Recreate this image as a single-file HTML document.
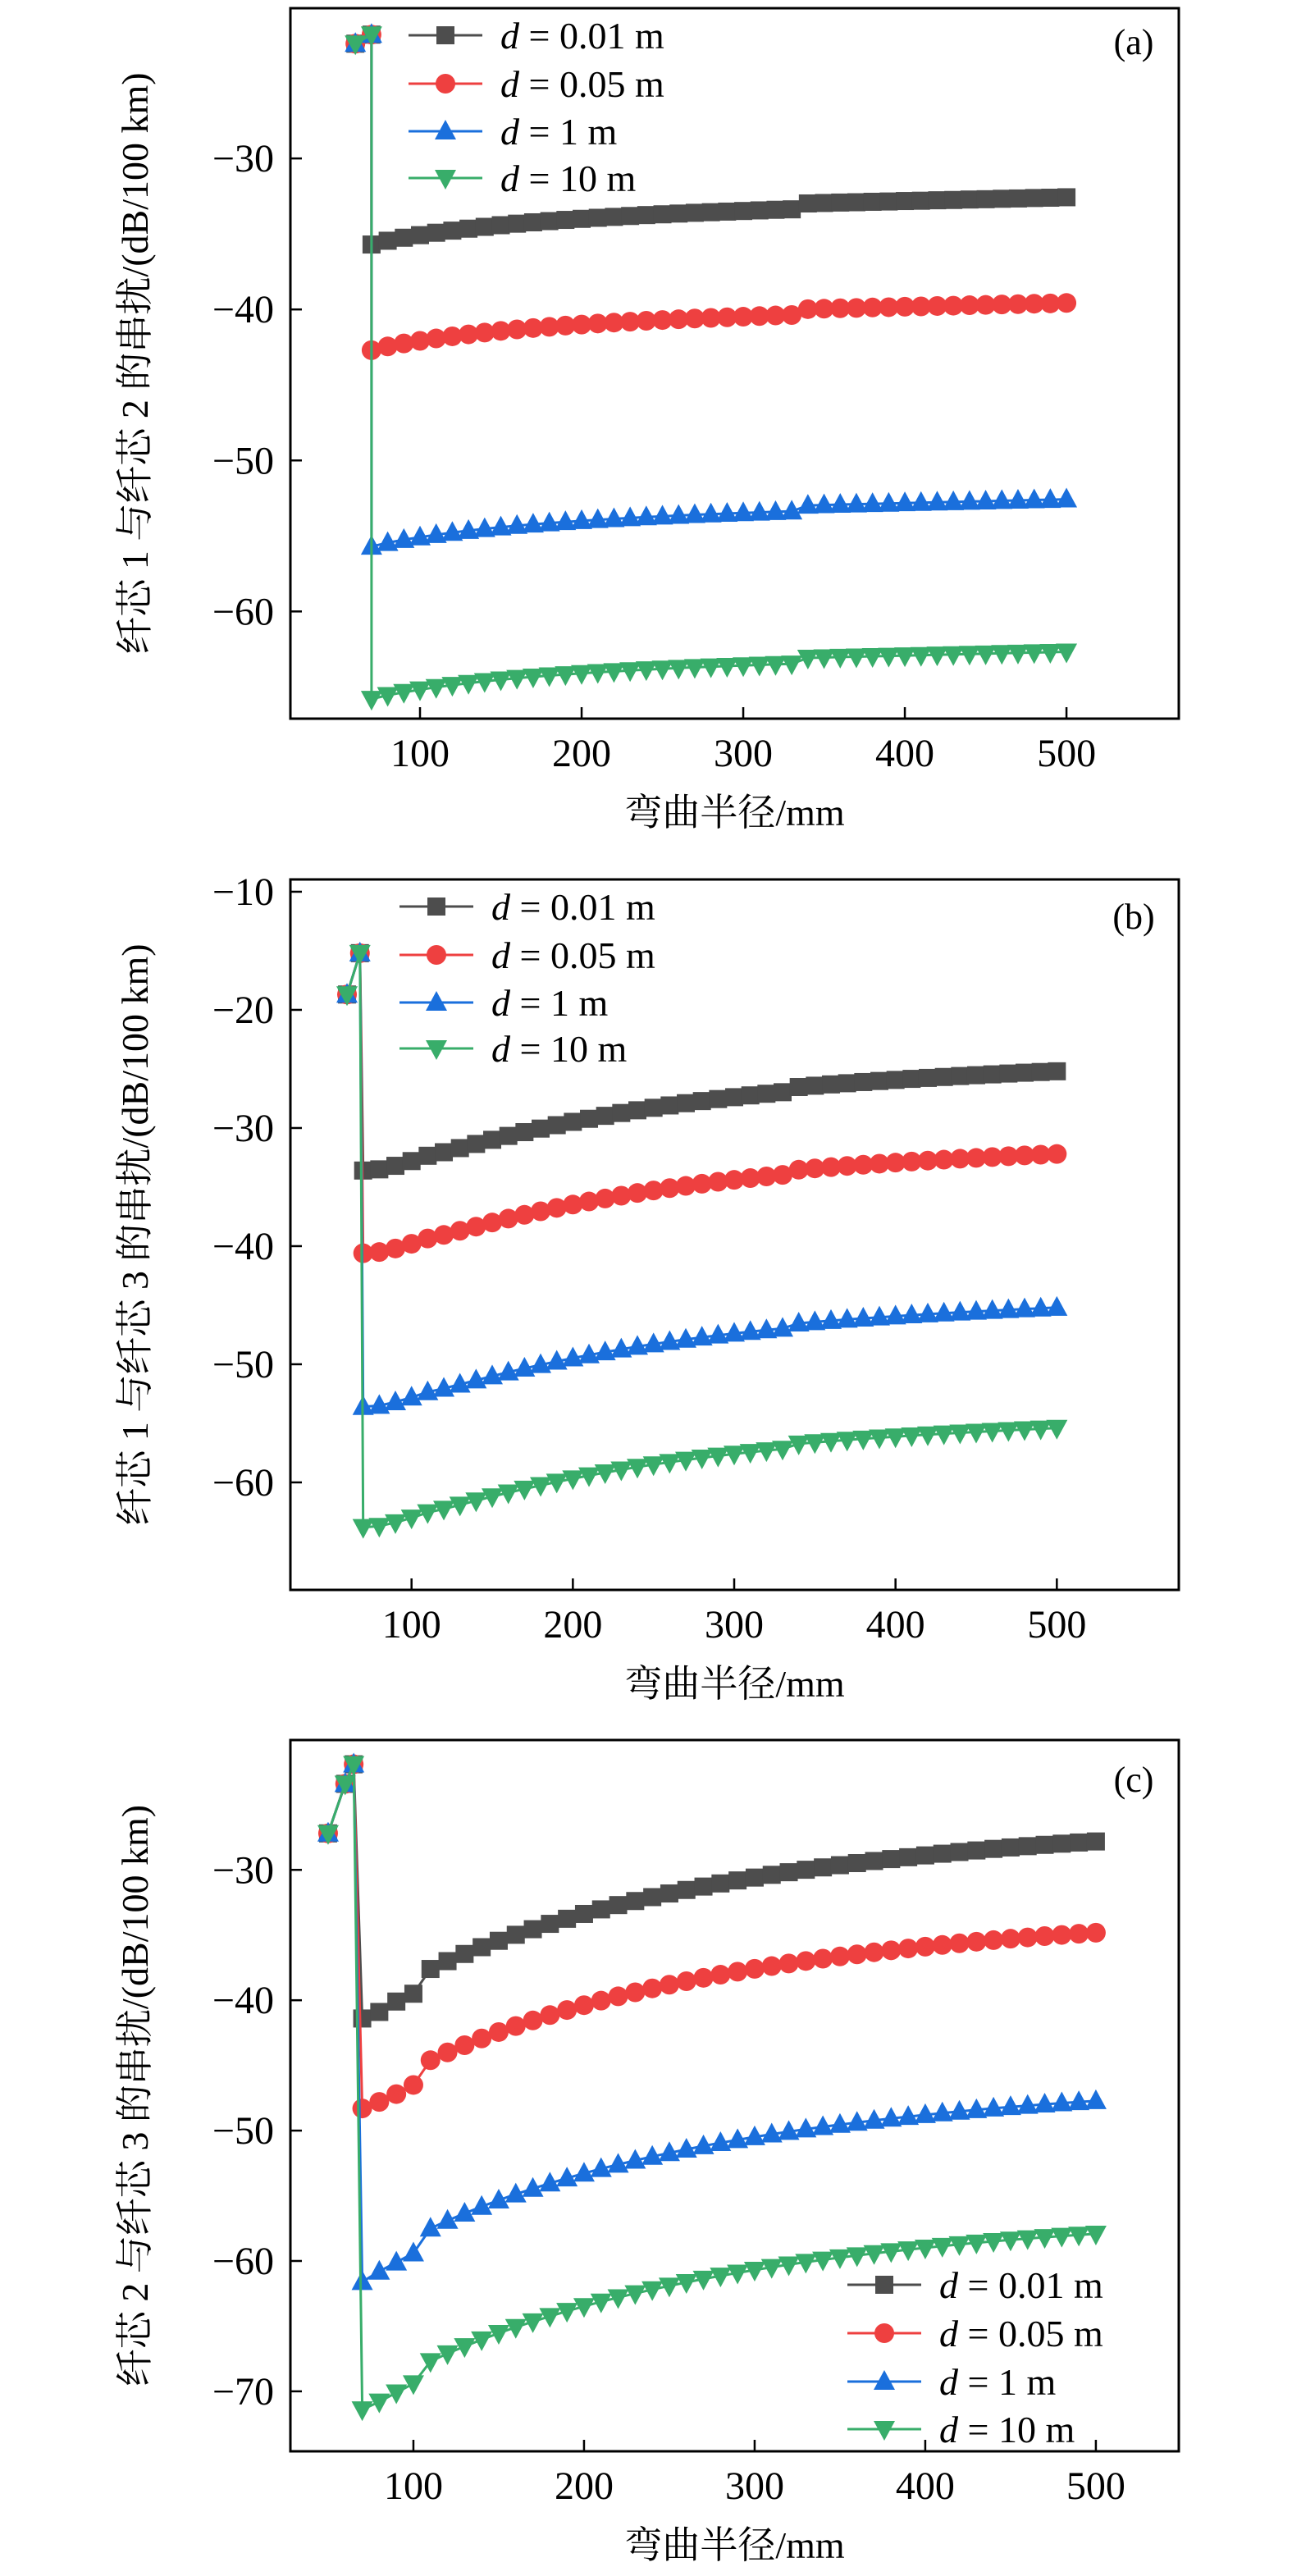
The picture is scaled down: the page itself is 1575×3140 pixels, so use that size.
<!DOCTYPE html>
<html><head><meta charset="utf-8">
<style>
html,body{margin:0;padding:0;background:#fff;}
svg{display:block;}
</style></head>
<body>
<svg id="fig" width="1575" height="3140" viewBox="0 0 1575 3140" xmlns="http://www.w3.org/2000/svg"></svg>
<script>
// ---------- data ----------
const xMain = [70,80,90,100,110,120,130,140,150,160,170,180,190,200,210,220,230,240,250,260,270,280,290,300,310,320,330,340,350,360,370,380,390,400,410,420,430,440,450,460,470,480,490,500];
const seriesLabels = ["0.01","0.05","1","10"];
const xTicks = [100,200,300,400,500];

// panel (a)
const aHeadX = [60,70];
const aHeadY = [-22.4,-21.8];
const aBlack = [-35.70,-35.45,-35.25,-35.08,-34.92,-34.78,-34.65,-34.53,-34.42,-34.32,-34.23,-34.15,-34.07,-34.00,-33.93,-33.87,-33.81,-33.75,-33.70,-33.65,-33.60,-33.56,-33.52,-33.48,-33.44,-33.40,-33.37,-32.98,-32.95,-32.92,-32.90,-32.87,-32.85,-32.82,-32.80,-32.77,-32.75,-32.72,-32.70,-32.67,-32.65,-32.62,-32.60,-32.57];
const aRed = [-42.70,-42.45,-42.25,-42.08,-41.92,-41.78,-41.65,-41.53,-41.42,-41.32,-41.23,-41.15,-41.07,-41.00,-40.93,-40.87,-40.81,-40.75,-40.70,-40.65,-40.60,-40.56,-40.52,-40.48,-40.44,-40.40,-40.37,-39.98,-39.95,-39.92,-39.90,-39.87,-39.85,-39.82,-39.80,-39.77,-39.75,-39.72,-39.70,-39.67,-39.65,-39.62,-39.60,-39.57];
const aBlue = [-55.70,-55.45,-55.25,-55.08,-54.92,-54.78,-54.65,-54.53,-54.42,-54.32,-54.23,-54.15,-54.07,-54.00,-53.93,-53.87,-53.81,-53.75,-53.70,-53.65,-53.60,-53.56,-53.52,-53.48,-53.44,-53.40,-53.37,-52.98,-52.95,-52.92,-52.90,-52.87,-52.85,-52.82,-52.80,-52.77,-52.75,-52.72,-52.70,-52.67,-52.65,-52.62,-52.60,-52.57];
const aGreen = [-65.80,-65.55,-65.35,-65.18,-65.02,-64.88,-64.75,-64.63,-64.52,-64.42,-64.33,-64.25,-64.17,-64.10,-64.03,-63.97,-63.91,-63.85,-63.80,-63.75,-63.70,-63.66,-63.62,-63.58,-63.54,-63.50,-63.47,-63.08,-63.05,-63.02,-63.00,-62.97,-62.95,-62.92,-62.90,-62.87,-62.85,-62.82,-62.80,-62.77,-62.75,-62.72,-62.70,-62.67];
const aYTicks = [-30,-40,-50,-60];

// panel (b)
const bHeadX = [60,68];
const bHeadY = [-18.7,-15.2];
const bBlack = [-33.60,-33.50,-33.20,-32.80,-32.35,-32.05,-31.70,-31.35,-31.00,-30.67,-30.35,-30.05,-29.76,-29.48,-29.22,-28.97,-28.73,-28.50,-28.29,-28.09,-27.90,-27.72,-27.55,-27.39,-27.24,-27.10,-26.97,-26.53,-26.42,-26.31,-26.21,-26.11,-26.02,-25.93,-25.84,-25.76,-25.68,-25.60,-25.53,-25.46,-25.39,-25.32,-25.26,-25.20];
const bRed = [-40.60,-40.50,-40.20,-39.80,-39.35,-39.05,-38.70,-38.35,-38.00,-37.67,-37.35,-37.05,-36.76,-36.48,-36.22,-35.97,-35.73,-35.50,-35.29,-35.09,-34.90,-34.72,-34.55,-34.39,-34.24,-34.10,-33.97,-33.53,-33.42,-33.31,-33.21,-33.11,-33.02,-32.93,-32.84,-32.76,-32.68,-32.60,-32.53,-32.46,-32.39,-32.32,-32.26,-32.20];
const bBlue = [-53.60,-53.50,-53.20,-52.80,-52.35,-52.05,-51.70,-51.35,-51.00,-50.67,-50.35,-50.05,-49.76,-49.48,-49.22,-48.97,-48.73,-48.50,-48.29,-48.09,-47.90,-47.72,-47.55,-47.39,-47.24,-47.10,-46.97,-46.53,-46.42,-46.31,-46.21,-46.11,-46.02,-45.93,-45.84,-45.76,-45.68,-45.60,-45.53,-45.46,-45.39,-45.32,-45.26,-45.20];
const bGreen = [-63.80,-63.70,-63.40,-63.00,-62.55,-62.25,-61.90,-61.55,-61.20,-60.87,-60.55,-60.25,-59.96,-59.68,-59.42,-59.17,-58.93,-58.70,-58.49,-58.29,-58.10,-57.92,-57.75,-57.59,-57.44,-57.30,-57.17,-56.73,-56.62,-56.51,-56.41,-56.31,-56.22,-56.13,-56.04,-55.96,-55.88,-55.80,-55.73,-55.66,-55.59,-55.52,-55.46,-55.40];
const bYTicks = [-10,-20,-30,-40,-50,-60];

// panel (c)
const cHeadX = [50,60,65];
const cHeadY = [-27.2,-23.4,-21.9];
const cBlack = [-41.4,-40.9,-40.1,-39.5,-37.60,-37.00,-36.45,-35.93,-35.44,-34.98,-34.55,-34.14,-33.75,-33.38,-33.03,-32.70,-32.39,-32.09,-31.81,-31.54,-31.28,-31.04,-30.81,-30.59,-30.38,-30.18,-29.99,-29.81,-29.64,-29.48,-29.32,-29.17,-29.03,-28.89,-28.76,-28.63,-28.51,-28.39,-28.28,-28.18,-28.08,-27.99,-27.90,-27.82];
const cRed = [-48.3,-47.8,-47.2,-46.5,-44.60,-44.00,-43.45,-42.93,-42.44,-41.98,-41.55,-41.14,-40.75,-40.38,-40.03,-39.70,-39.39,-39.09,-38.81,-38.54,-38.28,-38.04,-37.81,-37.59,-37.38,-37.18,-36.99,-36.81,-36.64,-36.48,-36.32,-36.17,-36.03,-35.89,-35.76,-35.63,-35.51,-35.39,-35.28,-35.18,-35.08,-34.99,-34.90,-34.82];
const cBlue = [-61.6,-60.8,-60.1,-59.4,-57.50,-56.90,-56.35,-55.83,-55.34,-54.88,-54.45,-54.04,-53.65,-53.28,-52.93,-52.60,-52.29,-51.99,-51.71,-51.44,-51.18,-50.94,-50.71,-50.49,-50.28,-50.08,-49.89,-49.71,-49.54,-49.38,-49.22,-49.07,-48.93,-48.79,-48.66,-48.53,-48.41,-48.29,-48.18,-48.08,-47.98,-47.89,-47.80,-47.72];
const cGreen = [-71.4,-70.8,-70.1,-69.4,-67.70,-67.10,-66.55,-66.03,-65.54,-65.08,-64.65,-64.24,-63.85,-63.48,-63.13,-62.80,-62.49,-62.19,-61.91,-61.64,-61.38,-61.14,-60.91,-60.69,-60.48,-60.28,-60.09,-59.91,-59.74,-59.58,-59.42,-59.27,-59.13,-58.99,-58.86,-58.73,-58.61,-58.49,-58.38,-58.28,-58.18,-58.09,-58.00,-57.92];
const cYTicks = [-30,-40,-50,-60,-70];

// ---------- drawing ----------
const NS = "http://www.w3.org/2000/svg";
const svg = document.getElementById("fig");
const COLORS = ["#4d4d4d","#ee4040","#1a6fdc","#38ad6a"];
const SHAPES = ["square","circle","up","down"];
const SERIF = '"Liberation Serif", "Noto Serif CJK SC", serif';

function mk(tag, attrs, parent){
  const e = document.createElementNS(NS, tag);
  for (const k in attrs) e.setAttribute(k, attrs[k]);
  (parent||svg).appendChild(e);
  return e;
}

function marker(g, shape, cx, cy, color){
  let m;
  if (shape==="square") m = mk("rect",{x:cx-11,y:cy-11,width:22,height:22,fill:color},g);
  else if (shape==="circle") m = mk("circle",{cx:cx,cy:cy,r:12,fill:color},g);
  else if (shape==="up") m = mk("polygon",{points:`${cx},${cy-14} ${cx+13},${cy+10} ${cx-13},${cy+10}`,fill:color},g);
  else m = mk("polygon",{points:`${cx},${cy+14} ${cx+13},${cy-10} ${cx-13},${cy-10}`,fill:color},g);
  return m;
}

function drawPanel(p){
  const g = mk("g",{});
  
  
  const L=354, R=1437, T=p.top, B=p.bottom;
  const sx = v => L + (v - p.xmin)/(p.xmax - p.xmin)*(R-L);
  const sy = v => T + (p.ymax - v)/(p.ymax - p.ymin)*(B-T);

  p.series.forEach((vals, i)=>{
    const sg = mk("g",{},g);
    
    
    const pts = [];
    p.headX.forEach((x,j)=>pts.push([sx(x), sy(p.headY[j])]));
    xMain.forEach((x,j)=>pts.push([sx(x), sy(vals[j])]));
    const line = mk("polyline",{points:pts.map(q=>q[0].toFixed(1)+","+q[1].toFixed(1)).join(" "),fill:"none",stroke:COLORS[i],"stroke-width":3,"stroke-linejoin":"round"},sg);
    
    
    pts.forEach(q=>{
      const m = marker(sg, SHAPES[i], q[0], q[1], COLORS[i]);
      
      
    });
  });

  const fr = mk("rect",{x:L,y:T,width:R-L,height:B-T,fill:"none",stroke:"#000","stroke-width":3},g);
  
  

  xTicks.forEach(v=>{
    const x = sx(v);
    mk("line",{x1:x,y1:B,x2:x,y2:B-14,stroke:"#000","stroke-width":2.5},g);
    const t = mk("text",{x:x,y:B+58,"font-size":48,"font-family":SERIF,"text-anchor":"middle",fill:"#000"},g);
    t.textContent = String(v);
    
    
  });
  p.yTicks.forEach(v=>{
    const y = sy(v);
    mk("line",{x1:L,y1:y,x2:L+14,y2:y,stroke:"#000","stroke-width":2.5},g);
    const t = mk("text",{x:334,y:y+16,"font-size":48,"font-family":SERIF,"text-anchor":"end",fill:"#000"},g);
    t.textContent = "\u2212"+Math.abs(v);
    
    
  });

  const xt = mk("text",{x:(L+R)/2,y:B+130,"font-size":46,"font-family":SERIF,"text-anchor":"middle",fill:"#000"},g);
  xt.textContent = "弯曲半径/mm";
  
  
  const cy = (T+B)/2;
  const yt = mk("text",{x:0,y:0,transform:`translate(180,${cy}) rotate(-90)`,"font-size":46,"font-family":SERIF,"text-anchor":"middle",fill:"#000"},g);
  yt.textContent = p.ylabel;
  
  

  const pt = mk("text",{x:1382,y:p.tagY+14,"font-size":44,"font-family":SERIF,"text-anchor":"middle",fill:"#000"},g);
  pt.textContent = "("+p.tag+")";
  
  

  const lg = mk("g",{},g);
  
  
  p.legendY.forEach((ly,i)=>{
    const e = mk("g",{},lg);
    
    
    mk("line",{x1:p.legendX,y1:ly,x2:p.legendX+90,y2:ly,stroke:COLORS[i],"stroke-width":3},e);
    marker(e, SHAPES[i], p.legendX+45, ly, COLORS[i]);
    const t = mk("text",{x:p.legendX+112,y:ly+16,"font-size":46,"font-family":SERIF,fill:"#000"},e);
    const ds = document.createElementNS(NS,"tspan");
    ds.setAttribute("font-style","italic");
    ds.textContent = "d";
    t.appendChild(ds);
    const rest = document.createElementNS(NS,"tspan");
    rest.textContent = " = "+seriesLabels[i]+" m";
    t.appendChild(rest);
  });
}

drawPanel({tag:"a", top:10, bottom:876, xmin:19.8, xmax:569.5, ymin:-67.1, ymax:-20.05,
  headX:aHeadX, headY:aHeadY, series:[aBlack,aRed,aBlue,aGreen], yTicks:aYTicks,
  ylabel:"纤芯 1 与纤芯 2 的串扰/(dB/100 km)", tagY:52, legendX:498, legendY:[43,102,160,217]});
drawPanel({tag:"b", top:1072, bottom:1938, xmin:24.9, xmax:575.6, ymin:-69.1, ymax:-8.96,
  headX:bHeadX, headY:bHeadY, series:[bBlack,bRed,bBlue,bGreen], yTicks:bYTicks,
  ylabel:"纤芯 1 与纤芯 3 的串扰/(dB/100 km)", tagY:1118, legendX:487, legendY:[1105,1164,1222,1278]});
drawPanel({tag:"c", top:2121, bottom:2988, xmin:27.9, xmax:548.6, ymin:-74.6, ymax:-20.04,
  headX:cHeadX, headY:cHeadY, series:[cBlack,cRed,cBlue,cGreen], yTicks:cYTicks,
  ylabel:"纤芯 2 与纤芯 3 的串扰/(dB/100 km)", tagY:2170, legendX:1033, legendY:[2785,2844,2903,2961]});
</script>
</body></html>
